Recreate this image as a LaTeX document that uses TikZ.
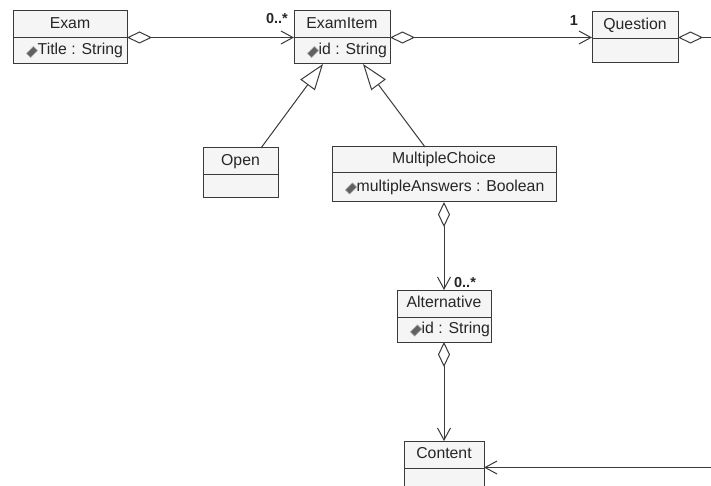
\documentclass[tikz,border=0pt]{standalone}
\usepackage{fontspec}
\setmainfont{Liberation Sans}
\usetikzlibrary{arrows.meta}

\definecolor{umlline}{HTML}{3A3A3A}
\definecolor{umlfill}{HTML}{F5F5F5}

\tikzset{
  classbox/.style={draw=umlline, fill=umlfill, line width=1pt, rectangle,
    inner sep=0pt, outer sep=0pt},
  divider/.style={draw=umlline, line width=1pt},
  umltext/.style={inner sep=0pt, font=\fontsize{15.8}{18}\selectfont,
    text=black!85, text height=11pt, text depth=3pt},
  multlabel/.style={umltext, font=\fontsize{14.5}{17}\selectfont\bfseries},
  attricon/.style={rectangle, inner sep=0pt, minimum width=10pt,
    minimum height=6pt, fill=black!62, draw=black!30, line width=0.6pt, rotate=45},
  link/.style={draw=umlline, line width=1pt},
  aggregation/.style={link,
    {Diamond[fill=white, length=25pt, width=12pt]}-{Straight Barb[length=12pt, width=13pt]}},
  aggrstub/.style={link, {Diamond[fill=white, length=25pt, width=12pt]}-},
  navigable/.style={link, -{Straight Barb[length=12pt, width=13pt]}},
  generalization/.style={link, -{Triangle[fill=white, length=26pt, width=18pt]}},
}

% name, x1, y1, x2, y2, divider y, title, attribute
\newcommand\umlclass[8]{%
  \node[classbox, minimum width={(#4-#2)*1pt}, minimum height={(#5-#3)*1pt}]
    (#1) at ({(#2+#4)/2},{(#3+#5)/2}) {};
  \draw[divider] (#2,#6) -- (#4,#6);
  \node[umltext] (#1-title) at ({(#2+#4)/2},{(#3+#6)/2}) {#7};
  \if\relax\detokenize{#8}\relax\else
    \node[attricon] (#1-icon) at ({#2+19},{(#6+#5)/2+1}) {};
    \node[umltext, anchor=west] (#1-attr) at ({#2+24.5},{(#6+#5)/2}) {#8};
  \fi
}

\begin{document}
\begin{tikzpicture}[x=1pt, y=-1pt]
  \useasboundingbox (0,0) rectangle (711,486);
  \clip (0,0) rectangle (711,486);
  \fill[white] (0,0) rectangle (711,486);

  % classes
  \umlclass{exam}{13}{11}{127}{64}{38}{Exam}{Title : String}
  \umlclass{examitem}{294}{11}{390}{64}{38}{ExamItem}{id : String}
  \umlclass{question}{592}{12}{678}{63}{38.5}{Question}{}
  \umlclass{open}{203}{148}{278}{198}{175}{Open}{}
  \umlclass{mc}{332}{147}{556}{202}{173}{MultipleChoice}{multipleAnswers : Boolean}
  \umlclass{alt}{397}{290}{491}{342}{317}{Alternative}{id : String}
  \umlclass{content}{404}{441}{484}{494}{468}{Content}{}

  % free ends of the associations leaving the picture
  \coordinate (questionout) at (720,37.5);
  \coordinate (contentin) at (720,467.5);

  % associations
  \draw[aggregation] (exam.east) -- (examitem.west);
  \draw[aggregation] (examitem.east) -- (question.west);
  \draw[aggrstub] (question.east) -- (questionout);
  \draw[aggregation] (mc.south) -- (alt.north);
  \draw[aggregation] (alt.south) -- (content.north);
  \draw[navigable] (contentin) -- (content.east);

  % generalizations
  \draw[generalization] ([xshift=58pt]open.north west) -- ([xshift=29pt]examitem.south west);
  \draw[generalization] ([xshift=93pt]mc.north west) -- ([xshift=69pt]examitem.south west);

  % multiplicities
  \node[multlabel] (m-examitem) at (277,20) {0..*};
  \node[multlabel] (m-question) at (574,22) {1};
  \node[multlabel] (m-alt) at (465,283) {0..*};
\end{tikzpicture}
\end{document}
